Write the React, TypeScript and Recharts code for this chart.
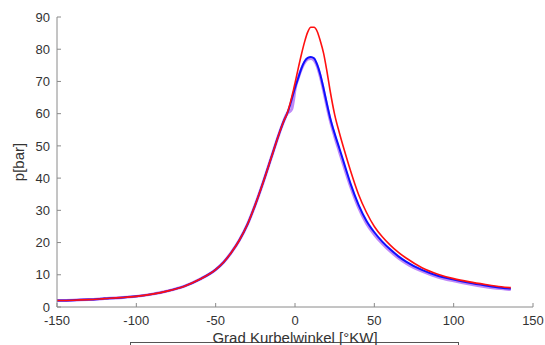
import { LineChart, Line, XAxis, YAxis } from "recharts";

const angles = [
  -150, -140, -130, -120, -110, -100, -90, -80, -70, -60, -50, -45, -40, -35, -30, -25, -20, -15, -10, -7, -5,
  -3, -2, -1, 0, 2, 4, 6, 8, 10, 12, 14, 16, 18, 20, 22, 25, 28, 31, 35, 40, 45, 50, 55, 60, 65, 70, 80, 90,
  100, 110, 120, 130, 136,
];

// gemeinsamer Kompressionsast bis -5 °KW
const rising = [
  2.0, 2.1, 2.3, 2.6, 2.9, 3.3, 4.0, 5.0, 6.4, 8.6, 11.6, 13.9, 17.0, 20.8, 25.6, 31.8, 38.8, 46.3, 53.8, 57.8, 60,
];

const redTail = [
  63.3, 65.3, 67.3, 69.5, 74, 78.3, 82.2, 85.3, 86.8, 86.8, 85.5, 82.5, 78.8, 73.5, 67.5, 59.7, 54, 48.8, 42.3,
  35, 29.4, 25, 21.8, 19.2, 17, 15.2, 12.2, 10.2, 8.8, 7.8, 7.0, 6.3, 6.0,
];
const blueTail = [
  62.8, 64.6, 66.3, 68, 71, 74, 76.2, 77.3, 77.6, 77.2, 75.2, 72, 67.8, 63.3, 59, 53.8, 49.2, 44.5, 38.3,
  31.8, 26.8, 23.2, 20.3, 17.9, 15.8, 14.1, 11.5, 9.7, 8.5, 7.5, 6.7, 6.0, 5.7,
];
const purpleTail = [
  60.8, 61.5, 64, 67.5, 71, 73.8, 75.8, 76.9, 77.1, 76.6, 74.7, 71.4, 67.2, 62.6, 58.3, 53, 48.2, 43.5,
  37.5, 31, 26, 22.5, 19.7, 17.3, 15.3, 13.6, 11.1, 9.3, 8.1, 7.1, 6.3, 5.7, 5.4,
];

const xTicks = [-150, -100, -50, 0, 50, 100, 150];
const yTicks = [0, 10, 20, 30, 40, 50, 60, 70, 80, 90];

const red = [...rising, ...redTail];
const blue = [...rising, ...blueTail];
const purple = [...rising, ...purpleTail];

const data = angles.map((a, i) => ({ a, red: red[i], blue: blue[i], purple: purple[i] }));

const font = "Liberation Sans, Arial, sans-serif";
const axisColor = "#8a8a8a";
const tickFont = { fontSize: 13, fill: "#333", fontFamily: font };

export default function App() {
  return (
    <div style={{ position: "absolute", left: 0, top: 0, width: 545, height: 345, overflow: "hidden", background: "#fff" }}>
      {/* Legendenrahmen, unten abgeschnitten wie im Original */}
      <div style={{ position: "absolute", left: 130, top: 342, width: 327, height: 40, border: "1px solid #555" }} />
      <LineChart
        width={545}
        height={345}
        data={data}
        margin={{ top: 17, right: 12, left: 0, bottom: 0 }}
        style={{ position: "absolute", left: 0, top: 0 }}
      >
        <XAxis
          xAxisId="b"
          dataKey="a"
          type="number"
          domain={[-150, 150]}
          ticks={xTicks}
          allowDataOverflow
          stroke={axisColor}
          tickSize={-4}
          tickMargin={13}
          tick={tickFont}
          height={38}
          label={{ value: "Grad Kurbelwinkel [°KW]", position: "insideBottom", offset: 2, fill: "#333", fontSize: 15, fontFamily: font }}
        />
        <XAxis
          xAxisId="t"
          dataKey="a"
          type="number"
          orientation="top"
          domain={[-150, 150]}
          ticks={xTicks}
          stroke={axisColor}
          tickSize={-4}
          tickFormatter={() => ""}
          height={0}
        />
        <YAxis
          yAxisId="l"
          type="number"
          domain={[0, 90]}
          ticks={yTicks}
          stroke={axisColor}
          tickSize={-4}
          tickMargin={11}
          tick={tickFont}
          width={57}
          label={{ value: "p[bar]", angle: -90, position: "insideLeft", offset: 19, fill: "#333", fontSize: 15, fontFamily: font, style: { textAnchor: "middle" } }}
        />
        <YAxis
          yAxisId="r"
          type="number"
          orientation="right"
          domain={[0, 90]}
          ticks={yTicks}
          stroke={axisColor}
          tickSize={-4}
          tickFormatter={() => ""}
          width={0}
        />
        <Line xAxisId="b" yAxisId="l" type="monotone" dataKey="purple" name="Simulation 2" stroke="#b476f7" strokeOpacity={0.85} strokeWidth={3} dot={false} isAnimationActive={false} />
        <Line xAxisId="b" yAxisId="l" type="monotone" dataKey="blue" name="Simulation 1" stroke="#1010ff" strokeWidth={2} dot={false} isAnimationActive={false} />
        <Line xAxisId="b" yAxisId="l" type="monotone" dataKey="red" name="Messung" stroke="#ff1010" strokeWidth={1.6} dot={false} isAnimationActive={false} />
      </LineChart>
    </div>
  );
}
